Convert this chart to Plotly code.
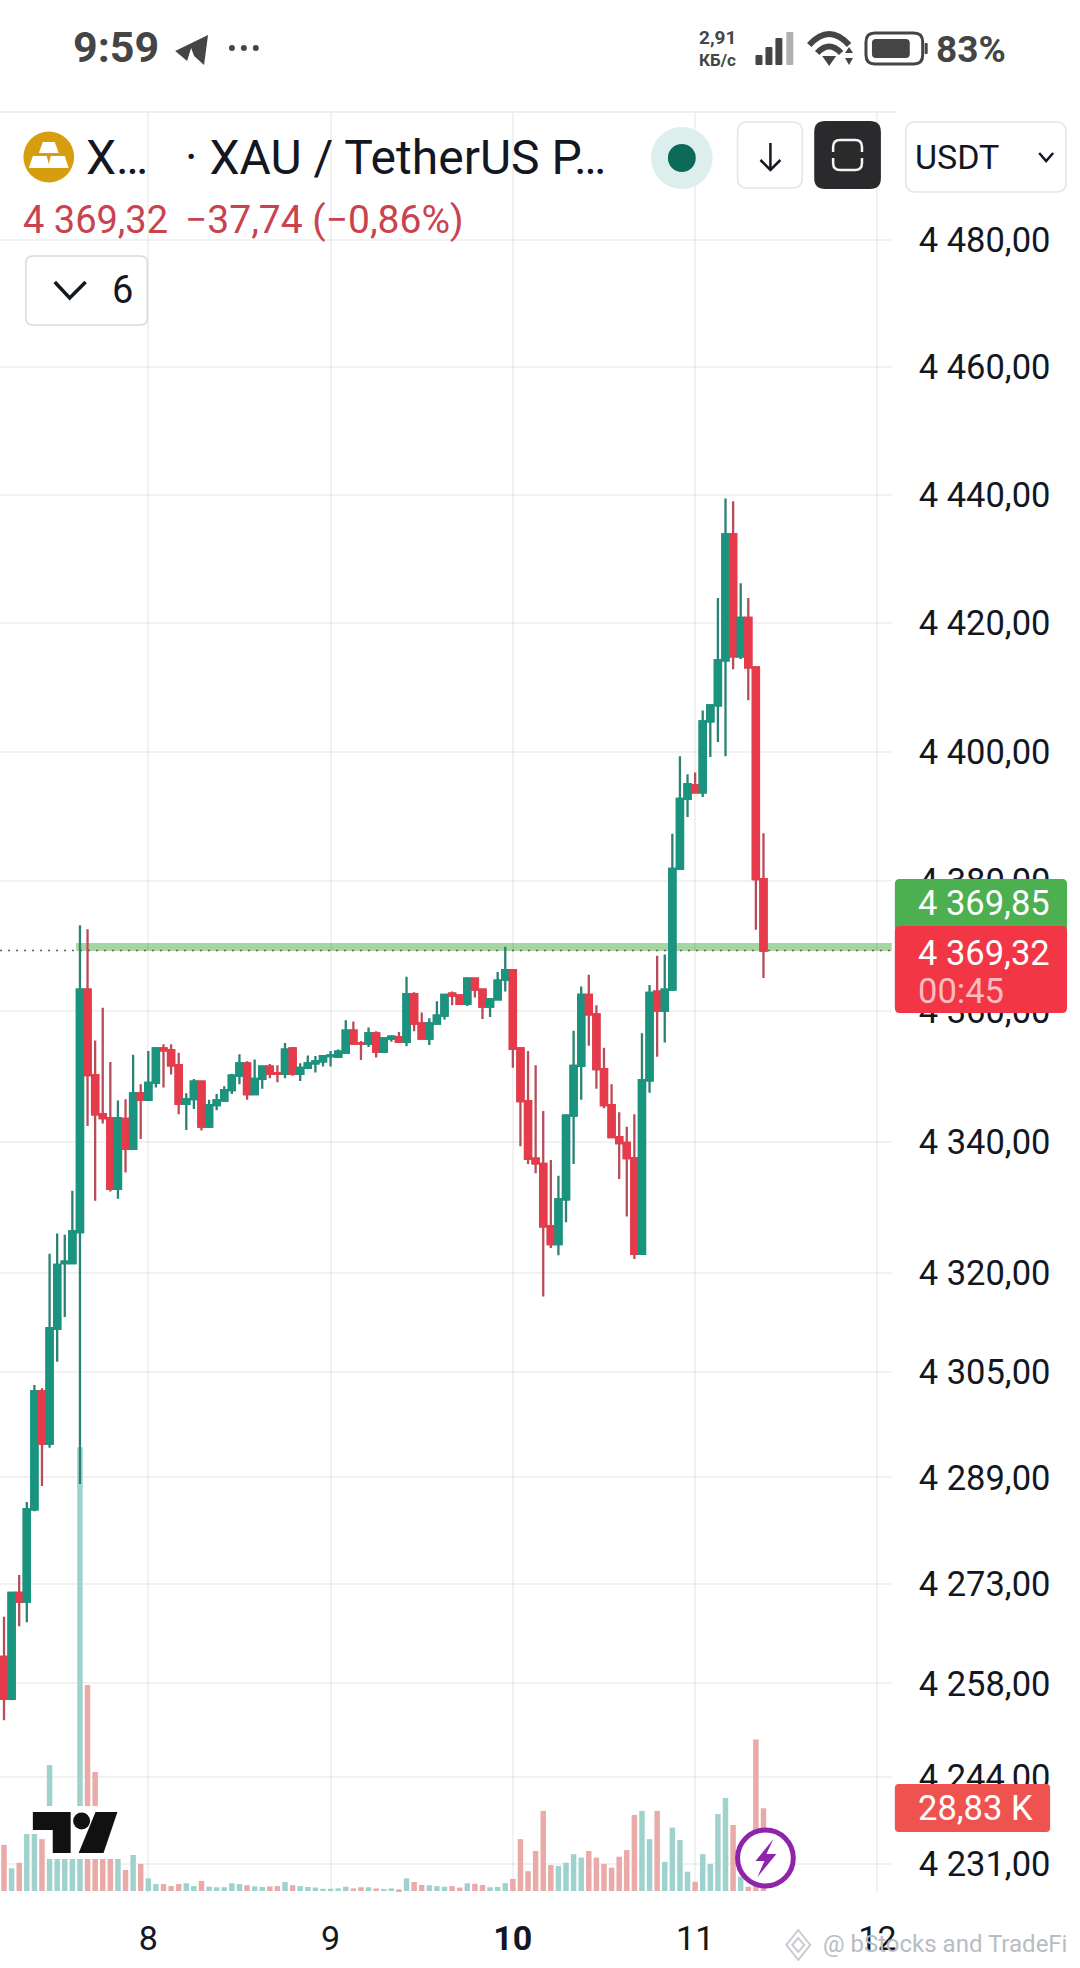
import math
import plotly.graph_objects as go

# ---------- DATA ----------
hours = list(range(-19, 82))
opens = [4262.0,4255.7,4271.6,4270.3,4284.2,4302.0,4294.1,4311.5,4321.5,4321.5,
 4326.2,4363.3,4350.2,4344.2,4343.6,4332.8,4343.5,4338.9,4347.4,
 4346.4,4349.0,4354.3,4354.0,4351.7,4345.8,4346.5,4349.2,4342.3,4345.6,4346.3,4347.9,4350.1,4352.0,4347.3,4349.6,4351.5,4350.5,4350.4,4354.3,4350.4,4351.3,4352.0,4352.3,4353.1,4353.0,4353.6,4357.0,4355.1,4355.0,4356.6,4353.8,4355.8,4356.0,4355.3,4362.6,4358.1,4355.8,4358.1,4359.3,4362.7,4362.4,4361.1,4365.0,4363.3,4360.7,4361.8,4364.8,
 4366.3,4354.3,4346.2,4337.4,4336.6,4327.1,4324.4,4331.2,4344.0,4351.6,4362.5,4359.5,4351.1,4345.6,4340.7,4339.8,4337.5,4322.9,4349.4,4363.0,4360.1,4363.3,4381.9,4392.7,4394.8,4393.7,4404.7,4407.2,4414.2,4433.8,4414.8,4420.8,4413.1,4380.3]
highs = [4268.0,4271.6,4274.3,4285.3,4303.0,4302.5,4322.9,4326.0,4325.8,4332.5,
 4373.2,4372.6,4355.5,4360.5,4352.2,4346.3,4346.5,4353.3,4348.8,
 4353.9,4354.3,4354.9,4354.9,4353.6,4347.4,4349.6,4349.2,4346.4,4347.3,4348.5,4350.4,4353.4,4352.3,4352.6,4351.5,4351.9,4351.7,4355.1,4354.3,4352.0,4353.2,4353.1,4353.1,4353.9,4354.1,4358.6,4358.4,4355.4,4357.5,4356.9,4355.8,4356.3,4356.8,4365.3,4362.9,4359.8,4358.9,4361.5,4362.5,4363.0,4362.4,4365.2,4365.0,4363.3,4361.8,4366.0,4369.9,
 4366.4,4354.3,4353.9,4351.7,4344.7,4337.2,4334.8,4344.2,4357.0,4363.8,4365.6,4360.9,4354.4,4348.8,4344.5,4342.3,4344.2,4356.6,4364.0,4368.5,4368.7,4387.3,4399.3,4396.5,4396.8,4406.4,4407.3,4423.9,4439.4,4439.0,4426.2,4423.9,4413.2,4387.4]
lows = [4252.5,4255.5,4266.6,4267.2,4283.9,4287.7,4293.5,4306.5,4313.3,4321.5,
 4288.0,4342.4,4331.0,4342.8,4332.4,4331.3,4335.3,4338.9,4340.4,
 4346.4,4348.3,4348.3,4350.3,4344.2,4341.8,4345.0,4341.7,4342.1,4344.8,4346.3,4347.3,4348.8,4346.4,4347.3,4348.1,4349.7,4349.1,4349.7,4350.1,4349.3,4351.3,4350.6,4351.5,4351.5,4352.9,4353.6,4355.0,4352.5,4354.5,4352.9,4353.8,4355.3,4355.3,4354.6,4356.9,4355.8,4354.8,4358.1,4358.7,4360.9,4361.1,4360.8,4362.1,4358.8,4359.1,4361.8,4363.0,
 4351.3,4339.3,4336.6,4335.2,4316.4,4323.8,4322.7,4327.7,4336.6,4346.4,4354.7,4348.1,4345.1,4340.7,4334.3,4328.6,4322.1,4322.9,4347.5,4353.0,4355.2,4363.3,4381.9,4389.9,4393.7,4393.0,4399.2,4401.5,4399.3,4412.8,4414.4,4408.0,4372.5,4365.1]
closes = [4255.7,4271.6,4270.3,4284.2,4302.0,4294.1,4311.6,4321.2,4321.7,4326.3,
 4363.3,4350.2,4344.2,4343.6,4332.8,4343.6,4338.9,4347.4,4346.4,
 4349.0,4354.3,4354.0,4351.7,4345.8,4346.5,4349.2,4342.3,4345.6,4346.3,4347.9,4350.1,4352.0,4347.3,4349.6,4351.5,4350.4,4350.4,4354.1,4350.4,4351.3,4352.0,4352.3,4353.1,4353.2,4353.8,4357.0,4355.0,4355.0,4356.6,4353.8,4355.8,4356.1,4355.3,4362.6,4358.1,4355.8,4358.1,4359.3,4362.5,4362.4,4361.1,4365.0,4363.3,4360.7,4361.8,4364.7,4366.3,
 4354.2,4346.2,4337.4,4336.7,4327.1,4324.4,4331.2,4344.0,4351.6,4362.5,4359.5,4351.1,4345.6,4340.7,4339.8,4337.5,4322.9,4349.4,4362.8,4360.1,4363.3,4381.9,4392.7,4395.0,4393.7,4404.7,4407.2,4414.2,4433.8,4414.8,4420.8,4413.1,4380.3,4369.32]
volumes_k = [16.0,7.9,9.8,19.8,19.8,18.0,43.7,15.4,15.0,14.0,154.0,71.5,41.3,14.0,16.5,12.1,7.3,12.5,9.4,
 4.4,2.4,2.4,1.7,2.4,2.7,1.7,3.5,1.5,1.3,1.3,2.7,2.4,2.0,1.6,1.4,1.6,1.7,3.1,2.0,1.7,1.4,1.2,0.8,0.8,0.9,1.5,0.9,1.3,1.3,0.9,0.7,0.9,0.6,4.4,3.1,2.1,2.0,1.7,1.5,1.7,1.2,2.7,2.5,2.1,1.3,1.4,2.7,
 4.2,18.0,6.9,13.9,27.8,9.0,8.7,9.8,12.8,11.6,13.9,11.6,9.4,8.1,11.9,14.2,26.4,27.8,18.0,27.8,10.1,22.0,17.7,6.7,3.2,12.8,9.4,26.7,32.3,22.9,5.0,1.5,52.6,28.7]

price_ticks = [4480,4460,4440,4420,4400,4380,4360,4340,4320,4305,4289,4273,4258,4244,4231]
price_labels = ["4 480,00","4 460,00","4 440,00","4 420,00","4 400,00","4 380,00","4 360,00","4 340,00",
                "4 320,00","4 305,00","4 289,00","4 273,00","4 258,00","4 244,00","4 231,00"]
day_ticks = [0, 24, 48, 72, 96]
day_labels = ["8", "9", "<b>10</b>", "11", "12"]
last_price = 4369.32
alert_price = 4369.85

# ---------- GEOMETRY ----------
W, H = 1080, 1968
PLOT_R, PLOT_T, PLOT_B = 896, 113, 1893
X0, DX = 149.0, 7.63
FONT = "Roboto"
INK = "#131722"
GRID = "rgba(10,10,30,0.055)"

def fx(x): return x / W
def fy(y): return 1 - y / H

def poly(pts, close=True):
    s = "M " + " L ".join(f"{fx(x):.5f},{fy(y):.5f}" for x, y in pts)
    return s + (" Z" if close else "")

def rrect(x0, y0, x1, y1, r):
    c = lambda x, y: f"{fx(x):.5f},{fy(y):.5f}"
    return (f"M {c(x0+r,y0)} L {c(x1-r,y0)} Q {c(x1,y0)} {c(x1,y0+r)} L {c(x1,y1-r)} Q {c(x1,y1)} {c(x1-r,y1)} "
            f"L {c(x0+r,y1)} Q {c(x0,y1)} {c(x0,y1-r)} L {c(x0,y0+r)} Q {c(x0,y0)} {c(x0+r,y0)} Z")

def quad(x0, y0, xc, yc, x1, y1):
    c = lambda x, y: f"{fx(x):.5f},{fy(y):.5f}"
    return f"M {c(x0,y0)} Q {c(xc,yc)} {c(x1,y1)}"

shapes, notes = [], []

def shape_path(path, fill=None, line=None, lw=0):
    shapes.append(dict(type="path", path=path, xref="paper", yref="paper",
                       fillcolor=fill or "rgba(0,0,0,0)",
                       line=dict(color=line or "rgba(0,0,0,0)", width=lw)))

def circle(cx, cy, r, fill, line=None, lw=0):
    shapes.append(dict(type="circle", xref="paper", yref="paper", x0=fx(cx-r), x1=fx(cx+r),
                       y0=fy(cy+r), y1=fy(cy-r), fillcolor=fill,
                       line=dict(color=line or "rgba(0,0,0,0)", width=lw)))

def text(x, y, s, size, color=INK, anchor="left"):
    notes.append(dict(text=s, x=fx(x), y=fy(y), xref="paper", yref="paper", showarrow=False,
                      xanchor=anchor, yanchor="middle", borderpad=0,
                      font=dict(family=FONT, size=size, color=color)))

# ---------- TRACES ----------
inc_wick, dec_wick = "#2b8273", "#b84d5a"
inc_body, dec_body = "#1a947f", "#e63b4b"
vol_colors = ["#9fd2cc" if c >= o else "#e9aaa8" for o, c in zip(opens, closes)]

fig = go.Figure()
fig.add_trace(go.Bar(x=hours, y=volumes_k, marker=dict(color=vol_colors, line_width=0),
                     xaxis="x", yaxis="y", showlegend=False))
fig.add_trace(go.Candlestick(x=hours, open=opens, high=highs, low=lows, close=closes,
                             increasing=dict(line=dict(color=inc_wick, width=2.3), fillcolor=inc_body),
                             decreasing=dict(line=dict(color=dec_wick, width=2.3), fillcolor=dec_body),
                             whiskerwidth=0, xaxis="x", yaxis="y2", showlegend=False))
fig.add_trace(go.Candlestick(x=hours, open=opens, close=closes,
                             high=[max(o, c) for o, c in zip(opens, closes)],
                             low=[min(o, c) for o, c in zip(opens, closes)],
                             increasing=dict(line=dict(color=inc_body, width=2.3), fillcolor=inc_body),
                             decreasing=dict(line=dict(color=dec_body, width=2.3), fillcolor=dec_body),
                             whiskerwidth=0, xaxis="x", yaxis="y2", showlegend=False))

# alert band and last-price dotted line (below the candles)
x_left, x_right = -X0 / DX, (PLOT_R - X0) / DX
shapes.append(dict(type="line", xref="x", yref="y2", x0=-9.5, x1=x_right, y0=alert_price, y1=alert_price,
                   layer="below", line=dict(color="#a6d6a2", width=8)))
shapes.append(dict(type="line", xref="x", yref="y2", x0=x_left, x1=x_right, y0=last_price, y1=last_price,
                   layer="below", line=dict(color="#6d5a4c", width=1.6, dash="2px,6px")))

# ---------- CHROME ----------
shapes.append(dict(type="line", xref="paper", yref="paper", x0=0, x1=fx(PLOT_R+5), y0=fy(112), y1=fy(112),
                   line=dict(color="#eeeff1", width=2)))
# status bar
GREY = "#454545"
text(72, 47, "<b>9:59</b>", 43, GREY)
shape_path(poly([(176,51),(209,35),(205,65),(195,56),(192,48),(188,61)]), fill=GREY)
for x in (233, 245, 257):
    circle(x, 48, 3, GREY)
text(701, 37, "<b>2,91</b>", 19, GREY)
text(701, 60, "<b>КБ/с</b>", 17, GREY)
for x0, y0, col in [(759,55,GREY),(769,47,GREY),(779,38,GREY),(790,32,"#b0b0b0")]:
    shape_path(rrect(x0, y0, x0+7, 65, 1), fill=col)
shape_path(quad(813,45,833,23,853,45), line=GREY, lw=6)
shape_path(quad(821,53,833,40,845,53), line=GREY, lw=6)
shape_path(poly([(826,56),(840,56),(833,66)]), fill=GREY)
shape_path(poly([(849,53),(857,53),(853,47)]), fill=GREY)
shape_path(poly([(849,58),(857,58),(853,65)]), fill=GREY)
shape_path(rrect(870,33,927,64,9), line=GREY, lw=3)
shape_path(rrect(876,39,914,58,4), fill=GREY)
shape_path(rrect(929,43,932,54,1), fill=GREY)
text(939, 50, "<b>83%</b>", 37, GREY)

# symbol row
circle(49, 157, 25.5, "#d69e0e")
shape_path(poly([(43,142),(55,142),(59,153),(39,153)]), fill="#fff")
shape_path(poly([(33,156),(47,156),(50,168),(29,168)]), fill="#fff")
shape_path(poly([(51,156),(65,156),(69,168),(48,168)]), fill="#fff")
text(85, 157, "X…", 48)
text(185, 157, "· XAU / TetherUS P…", 48)
circle(685, 158, 31, "#dcefec")
circle(685, 158, 14, "#0b6b58")
shape_path(rrect(741,122,806,188,10), line="#e3e5e9", lw=1.5)
shape_path(poly([(774,143),(774,170)], False), line=INK, lw=2.5)
shape_path(poly([(764,160),(774,170),(784,160)], False), line=INK, lw=2.5)
shape_path(rrect(818,121,885,189,11), fill="#2a2a2c")
shape_path(rrect(837,140,866,170,7), line="#f5f5f5", lw=2.5)
shape_path(rrect(831,152,872,158,0), fill="#2a2a2c")
shape_path(rrect(910,122,1071,192,10), line="#e3e5e9", lw=1.5)
text(918, 157, "USDT", 34)
shape_path(poly([(1044,153),(1051,161),(1058,153)], False), line=INK, lw=2.5)
text(22, 220, "4 369,32", 38, "#c9434f")
text(185, 220, "−37,74 (−0,86%)", 39, "#c9434f")
shape_path(rrect(26,256,148,325,7), line="#d8dade", lw=1.5)
shape_path(poly([(55,282),(70,298),(86,282)], False), line=INK, lw=3.5)
text(112, 290, "6", 38)

# price tags
shape_path(rrect(899,879,1072,932,5), fill="#4caf50")
shape_path(rrect(899,926,1072,1013,5), fill="#f23645")
text(921, 903, "4 369,85", 34.5, "#ffffff")
text(921, 953, "4 369,32", 34.5, "#ffffff")
text(921, 991, "00:45", 34.5, "#fbbcc2")
shape_path(rrect(899,1784,1055,1832,4), fill="#ef5350")
text(921, 1808, "28,83 K", 34.5, "#ffffff")

# logo with white halo
shape_path(rrect(28,1806,122,1827,0), fill="#ffffff")
shape_path(rrect(47,1827,122,1859,0), fill="#ffffff")
shape_path(poly([(33,1812),(71,1812),(71,1853),(53,1853),(53,1830),(33,1830)]), fill="#111111")
circle(82, 1821, 8.5, "#111111")
shape_path(poly([(96,1812),(118,1812),(104,1853),(79,1853)]), fill="#111111")

# lightning button
circle(769, 1858, 28, "#ffffff", "#8e24aa", 5)
shape_path(poly([(777,1839),(759,1861),(768,1861),(761,1877),(780,1854),(770,1854)]), fill="#8e24aa")

# watermark
shape_path(poly([(790,1945),(802,1930),(814,1945),(802,1960)]), line="#c9ccd1", lw=2)
shape_path(poly([(796,1945),(802,1938),(808,1945),(802,1952)]), line="#c9ccd1", lw=2)
text(826, 1944, "@ bStocks and TradeFi", 24, "#b9bcc2")

fig.update_layout(
    width=W, height=H, margin=dict(l=0, r=0, t=0, b=0), autosize=False,
    paper_bgcolor="#ffffff", plot_bgcolor="#ffffff", showlegend=False,
    boxgap=0.2, boxgroupgap=0, bargap=0.28, boxmode="overlay", barmode="overlay",
    font=dict(family=FONT, color=INK), shapes=shapes, annotations=notes,
    xaxis=dict(domain=[0, PLOT_R / W], range=[x_left, x_right], rangeslider=dict(visible=False),
               tickmode="array", tickvals=day_ticks, ticktext=day_labels, ticks="outside", ticklen=15,
               tickcolor="rgba(0,0,0,0)", tickfont=dict(family=FONT, size=34, color=INK),
               showgrid=True, gridcolor=GRID, gridwidth=1.5, zeroline=False, showline=False,
               anchor="y"),
    yaxis=dict(domain=[1 - PLOT_B / H, 1 - PLOT_T / H], range=[-0.69, 617], visible=False, showgrid=False),
    yaxis2=dict(domain=[1 - PLOT_B / H, 1 - PLOT_T / H], overlaying="y", side="right", anchor="x", type="log",
                range=[math.log10(4226.7), math.log10(4500.08)],
                tickmode="array", tickvals=price_ticks, ticktext=price_labels, ticks="outside", ticklen=19,
                tickcolor="rgba(0,0,0,0)", tickfont=dict(family=FONT, size=34.5, color=INK),
                showgrid=True, gridcolor=GRID, gridwidth=1.5, zeroline=False, showline=False),
)

fig.write_html("out.html", config=dict(displayModeBar=False),
               post_script="document.body.style.margin='0';document.body.style.overflow='hidden';")
